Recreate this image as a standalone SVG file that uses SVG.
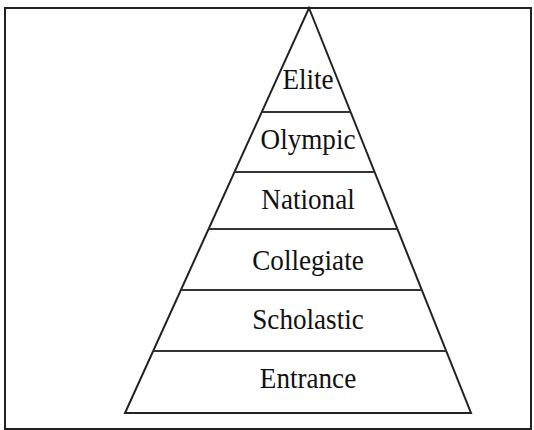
<svg xmlns="http://www.w3.org/2000/svg" width="534" height="430" viewBox="0 0 534 430">
<style>
.frame{fill:#fff;stroke:#222;stroke-width:2}
.edge{fill:none;stroke:#222;stroke-width:2;stroke-linejoin:miter}
.tier{stroke:#333;stroke-width:2.2}
.lbl{font-family:"Liberation Serif","DejaVu Serif",serif;font-size:29.5px;fill:#111;text-anchor:middle}
</style>
<rect width="534" height="430" fill="#fff"/>
<rect class="frame" x="5" y="8" width="526" height="421"/>
<g id="pyramid">
<polygon class="edge" points="309,8 471,413 125,413"/>
</g>
<g id="connectors">
<line class="tier" x1="262.1" y1="112" x2="350.6" y2="112"/>
<line class="tier" x1="234.5" y1="172" x2="374.6" y2="172"/>
<line class="tier" x1="208.6" y1="229" x2="397.4" y2="229"/>
<line class="tier" x1="180.9" y1="290" x2="421.8" y2="290"/>
<line class="tier" x1="153.2" y1="351" x2="446.2" y2="351"/>
</g>
<g id="elite"><text class="lbl" transform="translate(308,89) scale(0.92,1)">Elite</text></g>
<g id="olympic"><text class="lbl" transform="translate(308,149) scale(0.92,1)">Olympic</text></g>
<g id="national"><text class="lbl" transform="translate(308,209) scale(0.92,1)">National</text></g>
<g id="collegiate"><text class="lbl" transform="translate(308,270) scale(0.92,1)">Collegiate</text></g>
<g id="scholastic"><text class="lbl" transform="translate(308,329) scale(0.92,1)">Scholastic</text></g>
<g id="entrance"><text class="lbl" transform="translate(308,388) scale(0.92,1)">Entrance</text></g>
</svg>
